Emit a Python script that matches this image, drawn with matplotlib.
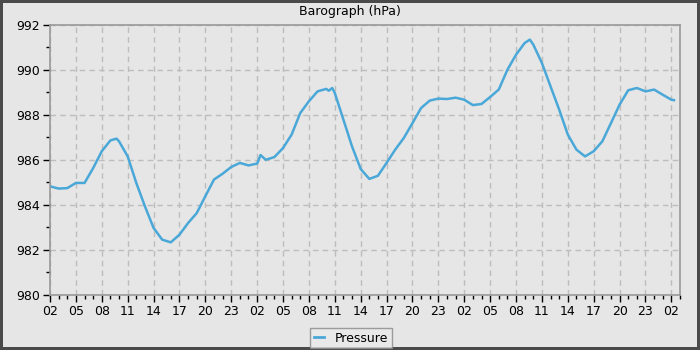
import matplotlib
matplotlib.use("Agg")
import matplotlib.pyplot as plt
from matplotlib.ticker import MultipleLocator, FuncFormatter
from matplotlib.lines import Line2D

# Hours since 02:00 on day 1
hours = [0, 1, 2, 3, 4, 5, 6, 7, 7.7, 8, 9,
         10, 11, 12, 13, 14, 15, 16, 17, 18, 19,
         20, 21, 22, 23, 24, 24.4, 25, 26, 27, 28, 29,
         30, 31, 32, 32.3, 32.7, 33, 34, 35, 36, 37, 38, 39,
         40, 41, 42, 43, 44, 45, 46, 47, 48, 49,
         50, 51, 52, 53, 54, 55, 55.6, 56, 57, 58, 59,
         60, 61, 62, 63, 64, 65, 66, 67, 68, 69,
         70, 71, 72, 72.3]
pressure = [984.83, 984.73, 984.75, 984.98, 984.98, 985.64, 986.39, 986.87, 986.95, 986.83, 986.16,
            984.98, 983.94, 982.98, 982.46, 982.34, 982.68, 983.20, 983.64, 984.39, 985.13,
            985.39, 985.69, 985.87, 985.76, 985.84, 986.22, 986.01, 986.13, 986.53, 987.13, 988.09,
            988.61, 989.05, 989.16, 989.08, 989.20, 988.98, 987.79, 986.60, 985.60, 985.16, 985.30, 985.87,
            986.46, 986.98, 987.64, 988.31, 988.64, 988.73, 988.71, 988.77, 988.68, 988.44,
            988.49, 988.80, 989.13, 990.01, 990.68, 991.20, 991.35, 991.13, 990.31, 989.27, 988.24,
            987.13, 986.46, 986.16, 986.39, 986.83, 987.64, 988.46, 989.10, 989.20, 989.05,
            989.13, 988.90, 988.68, 988.66]
start_hour = 2
title = "Barograph (hPa)"
series_name = "Pressure"
y_min, y_max = 980, 992
x_max = 73.0

bg = "#e6e6e6"
line_color = "#4aa8d8"

fig = plt.figure(figsize=(7, 3.5), dpi=100, facecolor=bg)
fig.patch.set_edgecolor("#4a4a4a")
fig.patch.set_linewidth(3)

ax = fig.add_axes([50/700, 55/350, 630/700, 270/350])
ax.set_facecolor(bg)
ax.plot(hours, pressure, color=line_color, lw=1.8)

ax.set_xlim(0, x_max)
ax.set_ylim(y_min, y_max)
ax.xaxis.set_major_locator(MultipleLocator(3))
ax.xaxis.set_minor_locator(MultipleLocator(1))
ax.xaxis.set_major_formatter(FuncFormatter(lambda v, p: f"{int(round(v + start_hour)) % 24:02d}"))
ax.yaxis.set_major_locator(MultipleLocator(2))
ax.yaxis.set_minor_locator(MultipleLocator(1))

ax.grid(True, which="major", color="#bdbdbd", linestyle=(0, (4, 3)), lw=1)
for s in ax.spines.values():
    s.set_color("#999999")
    s.set_linewidth(1.2)
ax.tick_params(axis="both", which="major", length=5, width=1, color="black", labelsize=9, pad=2)
ax.tick_params(axis="both", which="minor", length=3, width=1, color="black")

fig.text(0.5, 1 - 12/350, title, ha="center", va="center", fontsize=9)

handle = Line2D([], [], color=line_color, lw=2)
leg = fig.legend([handle], [series_name], loc="center", bbox_to_anchor=(351/700, 1 - 338/350),
                 fontsize=9, frameon=True, fancybox=False, handlelength=0.8,
                 borderpad=0.3, handletextpad=0.9, borderaxespad=0)
leg.get_frame().set_edgecolor("#888888")
leg.get_frame().set_facecolor("#eaeaea")
leg.get_frame().set_linewidth(1)

fig.savefig("out.png", dpi=100, facecolor=bg, edgecolor=fig.patch.get_edgecolor())
